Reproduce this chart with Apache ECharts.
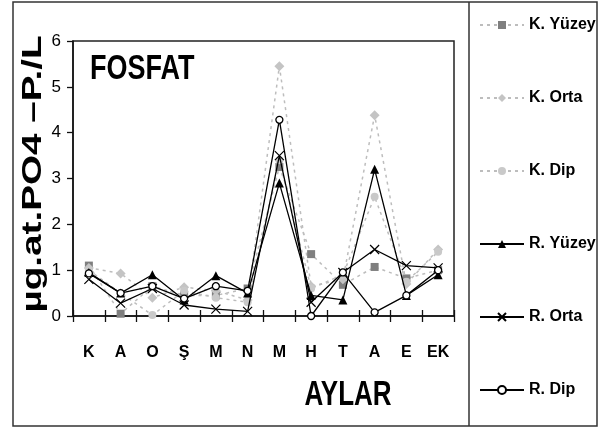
<!DOCTYPE html>
<html>
<head>
<meta charset="utf-8">
<script src="https://cdn.jsdelivr.net/npm/echarts@6/dist/echarts.min.js"></script>
<style>
  html, body { margin: 0; padding: 0; background: #fff; }
  #chart { width: 603px; height: 430px; }
</style>
</head>
<body>
<div id="chart"></div>
<script>
// Months (Turkish initials)
const months = ['K', 'A', 'O', 'Ş', 'M', 'N', 'M', 'H', 'T', 'A', 'E', 'EK'];
const yTicks = [0, 1, 2, 3, 4, 5, 6];

// Phosphate, µg-at PO4-P/L
const kYuzey = [1.1, 0.05, 0.65, 0.45, 0.45, 0.6, 3.25, 1.35, 0.68, 1.07, 0.82, 1.0];
const kOrta  = [1.05, 0.93, 0.4, 0.63, 0.55, 0.35, 5.45, 0.65, 0.8, 4.38, 0.7, 1.45];
const kDip   = [1.0, 0.5, 0.02, 0.55, 0.4, 0.3, 3.4, 0.6, 0.9, 2.6, 0.75, 1.4];
const rYuzey = [0.95, 0.5, 0.9, 0.35, 0.88, 0.5, 2.9, 0.45, 0.35, 3.2, 0.45, 0.9];
const rOrta  = [0.8, 0.28, 0.6, 0.24, 0.15, 0.1, 3.5, 0.3, 0.95, 1.45, 1.1, 1.05];
const rDip   = [0.93, 0.5, 0.65, 0.38, 0.65, 0.55, 4.28, 0.0, 0.95, 0.08, 0.45, 1.0];

const sans = '"Liberation Sans", Arial, sans-serif';
const dotted = [3, 4];

const chart = echarts.init(document.getElementById('chart'), null, { renderer: 'canvas' });

function dottedSeries(name, data, symbol, size, fill) {
  return {
    name, type: 'line', data, symbol, symbolSize: size,
    lineStyle: { color: '#bdbdbd', width: 1.5, type: dotted },
    itemStyle: { color: fill, borderWidth: 0 },
    z: 2
  };
}
function solidSeries(name, data, symbol, size, itemStyle) {
  return {
    name, type: 'line', data, symbol, symbolSize: size,
    lineStyle: { color: '#000', width: 1.3 },
    itemStyle,
    z: 3
  };
}

chart.setOption({
  animation: false,
  backgroundColor: '#fff',
  grid: {
    left: 73, top: 41, right: 149, bottom: 114,
    show: true, borderColor: '#222', borderWidth: 1.5, backgroundColor: 'transparent'
  },
  xAxis: [{
    type: 'category', data: months, boundaryGap: true,
    axisLine: { lineStyle: { color: '#111', width: 1.5 } },
    axisTick: { show: true, alignWithLabel: false, interval: 0, length: 6, lineStyle: { color: '#111', width: 1.3 } },
    axisLabel: { interval: 0, margin: 29, color: '#000', fontFamily: sans, fontWeight: 'bold', fontSize: 16 },
    splitLine: { show: false }
  }, {
    type: 'category', data: months, boundaryGap: true, position: 'bottom',
    axisLine: { show: false },
    axisTick: { show: true, inside: true, interval: 0, alignWithLabel: false, length: 6, lineStyle: { color: '#111', width: 1.3 } },
    axisLabel: { show: false },
    splitLine: { show: false }
  }],
  yAxis: {
    type: 'value', min: yTicks[0], max: yTicks[yTicks.length - 1], interval: 1,
    axisLine: { show: true, lineStyle: { color: '#111', width: 1.5 } },
    axisTick: { show: true, length: 6, lineStyle: { color: '#111', width: 1.3 } },
    axisLabel: { margin: 12, color: '#000', fontFamily: sans, fontSize: 17 },
    splitLine: { show: false }
  },
  legend: {
    orient: 'vertical', left: 474, top: 12,
    itemWidth: 44, itemHeight: 10, itemGap: 57,
    textStyle: { color: '#000', fontFamily: sans, fontWeight: 'bold', fontSize: 16 },
    data: ['K. Yüzey', 'K. Orta', 'K. Dip', 'R. Yüzey', 'R. Orta', 'R. Dip']
  },
  series: [
    dottedSeries('K. Yüzey', kYuzey, 'rect', 8, '#7f7f7f'),
    dottedSeries('K. Orta', kOrta, 'diamond', 10, '#c4c4c4'),
    dottedSeries('K. Dip', kDip, 'circle', 8, '#c9c9c9'),
    solidSeries('R. Yüzey', rYuzey, 'triangle', 9, { color: '#000' }),
    solidSeries('R. Orta', rOrta, 'path://M0,0L10,10M10,0L0,10', 9,
      { color: 'none', borderColor: '#000', borderWidth: 1.2 }),
    solidSeries('R. Dip', rDip, 'circle', 7, { color: '#fff', borderColor: '#000', borderWidth: 1.3 })
  ],
  graphic: [
    { type: 'rect', shape: { x: 13, y: 2, width: 584, height: 424 },
      style: { fill: 'none', stroke: '#333', lineWidth: 1.5 }, silent: true },
    { type: 'line', shape: { x1: 469, y1: 2, x2: 469, y2: 426 },
      style: { stroke: '#333', lineWidth: 1.5 }, silent: true },
    { type: 'text', x: 90, y: 69, scaleY: 1.33,
      style: { text: 'FOSFAT', font: 'bold 27px ' + sans,
        fill: '#000', textAlign: 'left', textVerticalAlign: 'middle' } },
    { type: 'text', x: 348, y: 395, scaleY: 1.38,
      style: { text: 'AYLAR', font: 'bold 26px ' + sans,
        fill: '#000', textAlign: 'center', textVerticalAlign: 'middle' } },
    { type: 'text', x: 33, y: 174, rotation: Math.PI / 2, scaleX: 1.38,
      style: { text: 'µg.at.PO4 –P./L', font: 'bold 28px ' + sans,
        fill: '#000', textAlign: 'center', textVerticalAlign: 'middle' } }
  ]
});
</script>
</body>
</html>
